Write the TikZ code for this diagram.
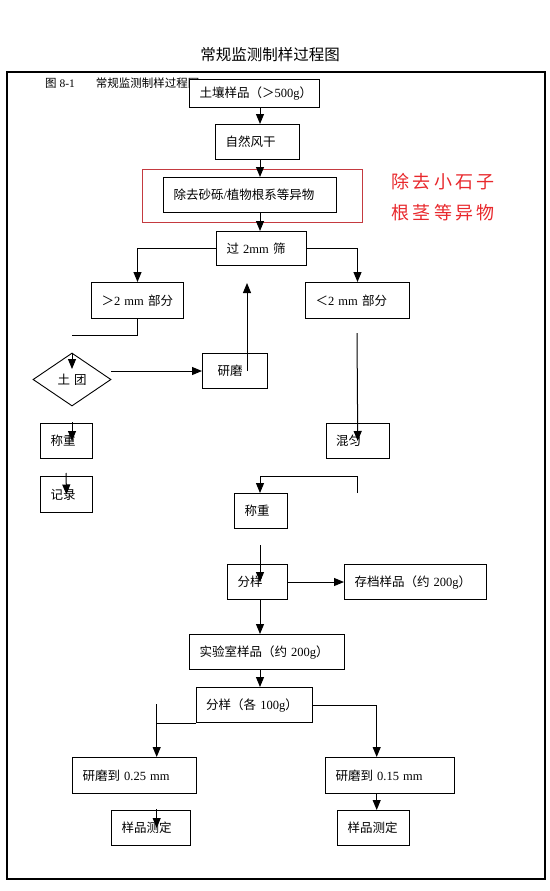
\documentclass[tikz,border=0pt]{standalone}
\usepackage{fontspec}
\setmainfont{Liberation Serif}
\newfontfamily\cjk{Noto Sans CJK SC}
\newfontfamily\cjkred[LetterSpace=19]{Noto Sans CJK SC}
\usepackage{xcolor}
\usetikzlibrary{arrows.meta,shapes.geometric}
\definecolor{markred}{RGB}{196,58,64}
\definecolor{notered}{RGB}{232,40,44}
\newcommand{\zh}[1]{{\cjk #1}}

\begin{document}
\begin{tikzpicture}[x=1pt,y=-1pt,
  every node/.style={font=\fontsize{12.5}{15}\selectfont},
  box/.style={draw,line width=1pt,fill=white,anchor=north west,inner xsep=10pt,inner ysep=0pt,align=left},
  redbox/.style={draw=markred,line width=0.9pt,anchor=north west,inner sep=0pt},
  lumpbox/.style={draw,diamond,line width=0.9pt,fill=white,inner sep=0pt,minimum width=78pt,minimum height=53pt},
  arr/.style={-{Triangle[length=10pt,width=8pt]},line width=1pt},
  line/.style={line width=1pt},
  frame/.style={line width=1.2pt}]
 \useasboundingbox (0,0) rectangle (549,891);
 \node[font=\cjk\fontsize{15.5}{18}\selectfont] (title) at (270,55) {常规监测制样过程图};
 \draw[frame] (7,72) rectangle (545,879);
 \node[anchor=west,inner sep=0pt,font=\fontsize{11.5}{14}\selectfont] (caption) at (45,83)
   {\zh{图}~8-1\hspace{21pt}\zh{常规监测制样过程图}};
 % main column
 \node[box,text width=109.5pt,minimum height=28pt] (soil) at (189,79) {\zh{土壤样品（＞}500g\zh{）}};
 \node[box,text width=64pt,minimum height=35pt] (dry) at (215,124) {\zh{自然风干}};
 \node[redbox,minimum width=220pt,minimum height=53pt] (cleanframe) at (142,169) {};
 \node[box,text width=153pt,minimum height=35pt] (inner) at (163,177) {\zh{除去砂砾}/\zh{植物根系等异物}};
 \node[anchor=west,inner sep=0pt,align=left,text=notered,font=\cjkred\fontsize{18}{31}\selectfont] (note) at (391,197.5)
   {除去小石子\\根茎等异物};
 \node[box,text width=70pt,minimum height=34pt] (sieve) at (216,231) {\zh{过}~2mm~\zh{筛}};
 \node[box,text width=72pt,minimum height=36pt] (big) at (91,282) {\zh{＞}2~mm~\zh{部分}};
 \node[box,text width=84pt,minimum height=36pt] (small) at (305,282) {\zh{＜}2~mm~\zh{部分}};
 \node[box,text width=45pt,minimum height=35pt] (grind) at (202,353) {\hspace{5pt}\zh{研磨}};
 \node[lumpbox] (lump) at (72,379.5) {\zh{土}\hspace{4pt}\zh{团}};
 \node[box,text width=32pt,minimum height=35pt] (weigh1) at (40,423) {\zh{称重}};
 \node[box,text width=32pt,minimum height=36pt] (record) at (40,476) {\zh{记录}};
 \node[box,text width=43.5pt,minimum height=35pt] (mix) at (325.5,423) {\zh{混匀}};
 \node[box,text width=33pt,minimum height=35pt] (weigh2) at (234,493) {\zh{称重}};
 \node[box,text width=40pt,minimum height=35pt] (split) at (227,564) {\zh{分样}};
 \node[box,text width=122pt,minimum height=35pt] (archive) at (344,564) {\zh{存档样品（约}~200g\zh{）}};
 \node[box,text width=135pt,minimum height=35pt] (lab) at (189,634) {\zh{实验室样品（约}~200g\zh{）}};
 \node[box,text width=96.3pt,minimum height=35pt] (split2) at (195.7,687) {\zh{分样（各}~100g\zh{）}};
 \node[box,text width=103.7pt,minimum height=36pt] (grind1) at (72,757) {\zh{研磨到}~0.25~mm};
 \node[box,text width=109pt,minimum height=36pt] (grind2) at (325,757) {\zh{研磨到}~0.15~mm};
 \node[box,text width=59pt,minimum height=35pt] (test1) at (111,810) {\zh{样品测定}};
 \node[box,text width=52pt,minimum height=35pt] (test2) at (337,810) {\zh{样品测定}};
 % loose ends
 \coordinate (spine) at (260,0);
 \coordinate (bigend) at (72,335);
 \coordinate (lumptip) at (72,369);
 \coordinate (grindtip) at (247,283);
 \coordinate (smalltail) at (357,333);
 \coordinate (weightail) at (72,422);
 \coordinate (recordtail) at (66,473);
 \coordinate (mixtail) at (357,493);
 \coordinate (mixturn) at (357,476);
 \coordinate (weightail2) at (260,545);
 \coordinate (leftx) at (156.7,704);
 \coordinate (rightx) at (376.7,0);
 \coordinate (grindtail) at (156.7,809);
 % connectors
 \draw[arr] (soil.south -| spine) -- (dry.north -| spine);
 \draw[arr] (dry.south -| spine) -- (inner.north -| spine);
 \draw[arr] (inner.south -| spine) -- (sieve.north -| spine);
 \draw[arr] (sieve.west) -| (big.north);
 \draw[arr] (sieve.east) -| (small.north);
 \draw[line] (big.south) |- (bigend);
 \draw[arr] (lump.north) -- (lumptip);
 \draw[arr] (lump.east |- grind.west) -- (grind.west);
 \draw[arr] (grind.center -| grindtip) -- (grindtip);
 \draw[arr] (smalltail) -- (mix.center);
 \draw[arr] (weightail) -- (weigh1.center -| weightail);
 \draw[arr] (recordtail) -- (record.center);
 \draw[arr] (mixtail) -- (mixturn) -| (weigh2.north -| spine);
 \draw[arr] (weightail2) -- (split.center -| spine);
 \draw[arr] (split.east) -- (archive.west);
 \draw[arr] (split.south -| spine) -- (lab.north -| spine);
 \draw[arr] (lab.south -| spine) -- (split2.north -| spine);
 \draw[line] (split2.south west) -- (split2.south west -| leftx);
 \draw[arr] (leftx) -- (grind1.north -| leftx);
 \draw[arr] (split2.east) -| (grind2.north -| rightx);
 \draw[arr] (grindtail) -- (test1.center -| grindtail);
 \draw[arr] (grind2.south -| rightx) -- (test2.north -| rightx);
\end{tikzpicture}
\end{document}
